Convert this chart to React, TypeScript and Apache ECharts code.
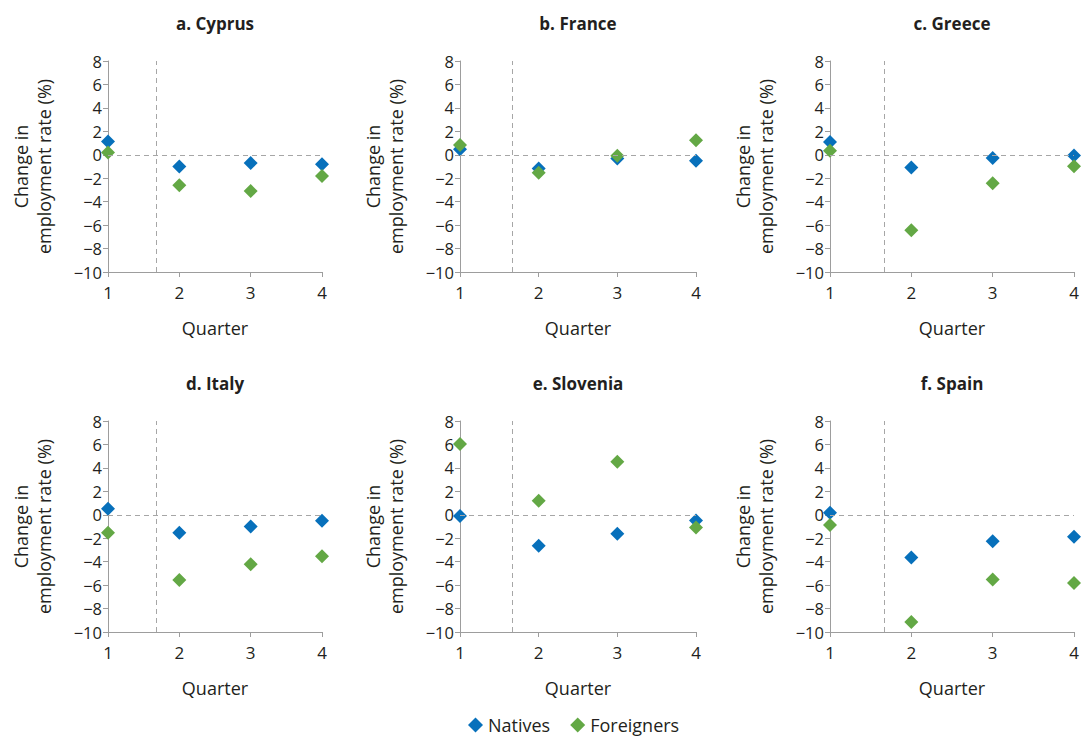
import React, { useEffect, useRef } from "react";
import * as echarts from "echarts";

const quarters = [1, 2, 3, 4];
const panelTitles = ["a. Cyprus", "b. France", "c. Greece", "d. Italy", "e. Slovenia", "f. Spain"];
const nativesCyprus = [1.14, -1.0, -0.71, -0.8];
const foreignersCyprus = [0.2, -2.6, -3.1, -1.8];
const nativesFrance = [0.48, -1.17, -0.31, -0.5];
const foreignersFrance = [0.83, -1.54, -0.09, 1.25];
const nativesGreece = [1.1, -1.08, -0.28, -0.06];
const foreignersGreece = [0.34, -6.44, -2.42, -0.97];
const nativesItaly = [0.51, -1.54, -1.0, -0.51];
const foreignersItaly = [-1.54, -5.56, -4.22, -3.53];
const nativesSlovenia = [-0.11, -2.65, -1.62, -0.48];
const foreignersSlovenia = [6.04, 1.2, 4.53, -1.08];
const nativesSpain = [0.17, -3.65, -2.25, -1.88];
const foreignersSpain = [-0.88, -9.15, -5.53, -5.81];
const yTicks = { min: -10, max: 8, interval: 2 };
const breakQuarter = 1.67;

const nativesByPanel = [nativesCyprus, nativesFrance, nativesGreece, nativesItaly, nativesSlovenia, nativesSpain];
const foreignersByPanel = [foreignersCyprus, foreignersFrance, foreignersGreece, foreignersItaly, foreignersSlovenia, foreignersSpain];

const FONT = "'Open Sans', 'Noto Sans', sans-serif";
const BLUE = "#0770bb";
const GREEN = "#63a845";
const AXIS = "#9d9d9d";
const TEXT = "#231f20";

const grids = [
  { left: 108, top: 61, width: 214, height: 211 },
  { left: 460, top: 61, width: 236, height: 211 },
  { left: 830, top: 61, width: 244, height: 211 },
  { left: 108, top: 421, width: 214, height: 211 },
  { left: 460, top: 421, width: 236, height: 211 },
  { left: 830, top: 421, width: 244, height: 211 },
];

export default function App() {
  const ref = useRef<HTMLDivElement>(null);
  useEffect(() => {
    if (!ref.current) return;
    const chart = echarts.init(ref.current, null, { renderer: "svg" });
    const xAxes: any[] = [];
    const yAxes: any[] = [];
    const series: any[] = [];
    const graphics: any[] = [];
    grids.forEach((g, i) => {
      xAxes.push({
        type: "value",
        gridIndex: i,
        min: 1,
        max: 4,
        interval: 1,
        name: "Quarter",
        nameLocation: "middle",
        nameGap: 47,
        nameTextStyle: { fontFamily: FONT, fontSize: 18, color: TEXT },
        axisLine: { show: true, onZero: false, lineStyle: { color: AXIS, width: 1 } },
        axisTick: { show: true, length: 5, lineStyle: { color: AXIS } },
        axisLabel: { margin: 12, fontFamily: FONT, fontSize: 17, color: TEXT },
        splitLine: { show: false },
      });
      yAxes.push({
        type: "value",
        gridIndex: i,
        min: yTicks.min,
        max: yTicks.max,
        interval: yTicks.interval,
        name: "Change in\nemployment rate (%)",
        nameLocation: "middle",
        nameGap: 53,
        nameTextStyle: { fontFamily: FONT, fontSize: 18, color: TEXT, lineHeight: 23 },
        axisLine: { show: true, onZero: false, lineStyle: { color: AXIS, width: 1 } },
        axisTick: { show: true, length: 5, lineStyle: { color: AXIS } },
        axisLabel: {
          margin: 6,
          fontFamily: FONT,
          fontSize: 16.5,
          color: TEXT,
          formatter: (v: number) => (v < 0 ? "\u2212" + Math.abs(v) : String(v)),
        },
        splitLine: { show: false },
      });
      series.push({
        type: "scatter",
        name: "Natives",
        xAxisIndex: i,
        yAxisIndex: i,
        symbol: "diamond",
        symbolSize: 14,
        itemStyle: { color: BLUE, opacity: 1 },
        data: quarters.map((q, k) => [q, nativesByPanel[i][k]]),
        markLine: {
          silent: true,
          symbol: "none",
          label: { show: false },
          lineStyle: { color: "#a6a6a6", type: [5, 4], width: 1 },
          data: [{ xAxis: breakQuarter }, { yAxis: 0 }],
        },
      });
      series.push({
        type: "scatter",
        name: "Foreigners",
        xAxisIndex: i,
        yAxisIndex: i,
        symbol: "diamond",
        symbolSize: 14,
        itemStyle: { color: GREEN, opacity: 1 },
        data: quarters.map((q, k) => [q, foreignersByPanel[i][k]]),
      });
      graphics.push({
        type: "text",
        x: g.left + g.width / 2,
        y: g.top - 38,
        style: {
          text: panelTitles[i],
          textAlign: "center",
          textVerticalAlign: "middle",
          fontFamily: FONT,
          fontSize: 17,
          fontWeight: "bold",
          fill: TEXT,
        },
      });
    });
    chart.setOption({
      animation: false,
      backgroundColor: "#ffffff",
      grid: grids.map((g) => ({ ...g, containLabel: false })),
      xAxis: xAxes,
      yAxis: yAxes,
      series,
      graphic: graphics,
      legend: {
        data: ["Natives", "Foreigners"],
        left: 463,
        top: 711,
        icon: "diamond",
        itemWidth: 15,
        itemHeight: 15,
        itemGap: 20,
        textStyle: { fontFamily: FONT, fontSize: 18, color: TEXT },
      },
    });
    return () => chart.dispose();
  }, []);
  return (
    <div
      ref={ref}
      style={{ position: "absolute", left: 0, top: 0, width: 1082, height: 740, background: "#fff" }}
    />
  );
}
